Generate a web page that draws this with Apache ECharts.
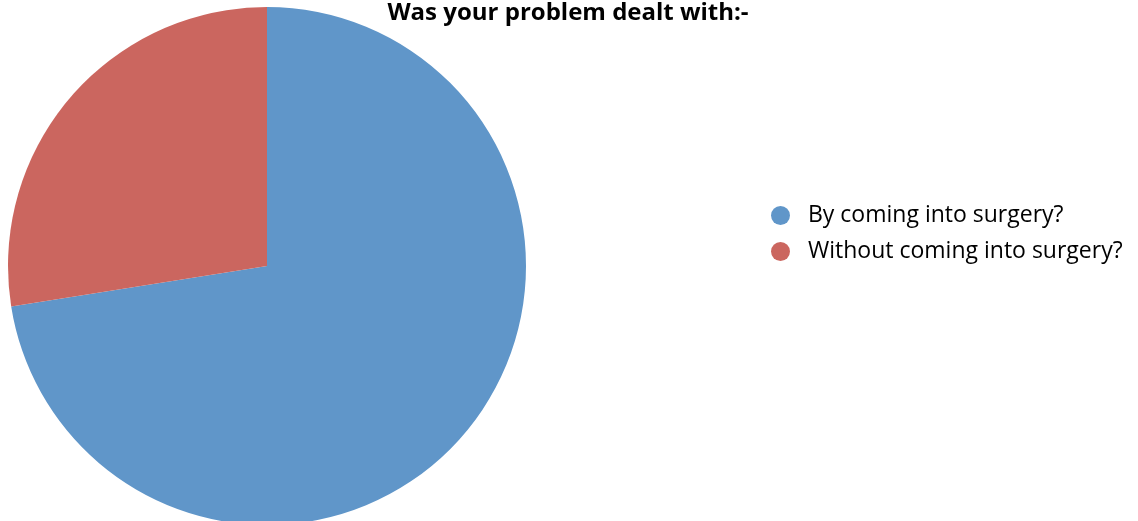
<!DOCTYPE html>
<html><head><meta charset="utf-8">
<script src="https://cdn.jsdelivr.net/npm/echarts@6/dist/echarts.min.js"></script>
<style>html,body{margin:0;padding:0;background:#fff}#c{width:1138px;height:521px}</style>
</head><body><div id="c"></div>
<script>
const categories = ["By coming into surgery?", "Without coming into surgery?"];
const values = [72.5, 27.5];
const colors = ["#6096C9", "#CB665F"];
const titleText = "Was your problem dealt with:-";

const chart = echarts.init(document.getElementById('c'), null, {renderer: 'canvas'});
chart.setOption({
  animation: false,
  title: {
    text: titleText, left: 568, top: 1, textAlign: 'center', padding: 0,
    textStyle: {fontFamily: 'Open Sans', fontWeight: 'bold', fontSize: 24, color: '#000'}
  },
  legend: {
    orient: 'vertical', left: 771, top: 204, icon: 'circle', padding: 0,
    itemWidth: 19, itemHeight: 19, itemGap: 13,
    textStyle: {fontFamily: 'Open Sans', fontSize: 23, color: '#000', padding: [0,0,0,13]},
    data: categories
  },
  series: [{
    type: 'pie', center: [267, 266], radius: 259, startAngle: 90, clockwise: true,
    label: {show: false}, labelLine: {show: false},
    itemStyle: {borderWidth: 0},
    emphasis: {disabled: true},
    data: categories.map((c, i) => ({name: c, value: values[i], itemStyle: {color: colors[i]}}))
  }]
});
</script></body></html>
